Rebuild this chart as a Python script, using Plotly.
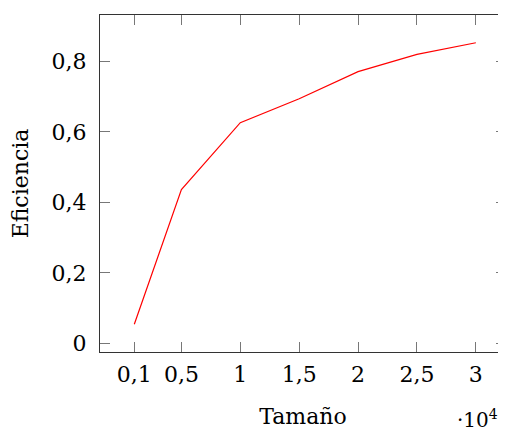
import plotly.graph_objects as go

tamano = [1000, 5000, 10000, 15000, 20000, 25000, 30000]
eficiencia = [0.054, 0.436, 0.626, 0.694, 0.771, 0.820, 0.853]

x_tickvals = [1000, 5000, 10000, 15000, 20000, 25000, 30000]
x_ticktext = ["0,1", "0,5", "1", "1,5", "2", "2,5", "3"]
y_tickvals = [0, 0.2, 0.4, 0.6, 0.8]
y_ticktext = ["0", "0,2", "0,4", "0,6", "0,8"]

FONT = "DejaVu Serif"

fig = go.Figure()
fig.add_trace(go.Scatter(x=tamano, y=eficiencia, mode="lines",
                         line=dict(color="red", width=1.2), showlegend=False))

# page body has an 8px margin, so the figure is sized to end at the window edge
fig.update_layout(
    width=498, height=427,
    margin=dict(l=92, r=0, t=7, b=83),
    paper_bgcolor="white", plot_bgcolor="white",
    font=dict(family=FONT, size=22, color="black"),
)
fig.update_xaxes(
    range=[-1912, 32560], tickvals=x_tickvals, ticktext=x_ticktext,
    showgrid=False, zeroline=False, showline=True, linecolor="#333", linewidth=1,
    mirror="ticks", ticks="inside", ticklen=10, tickcolor="#777", tickwidth=1,
    ticklabelstandoff=3, automargin=False,
    title=dict(text="Tamaño", standoff=22, font=dict(family=FONT, size=22)),
)
fig.update_yaxes(
    range=[-0.0247, 0.9317], tickvals=y_tickvals, ticktext=y_ticktext,
    showgrid=False, zeroline=False, showline=True, linecolor="#333", linewidth=1,
    mirror="ticks", ticks="inside", ticklen=10, tickcolor="#777", tickwidth=1,
    ticklabelstandoff=8, automargin=False,
    title=dict(text="Eficiencia", standoff=17, font=dict(family=FONT, size=22)),
)
fig.add_annotation(
    text="·10<sup>4</sup>", xref="paper", yref="paper", x=0.985, y=0, yshift=-52,
    xanchor="right", yanchor="top", showarrow=False,
    font=dict(family=FONT, size=20),
)

fig.write_html("out.html")
